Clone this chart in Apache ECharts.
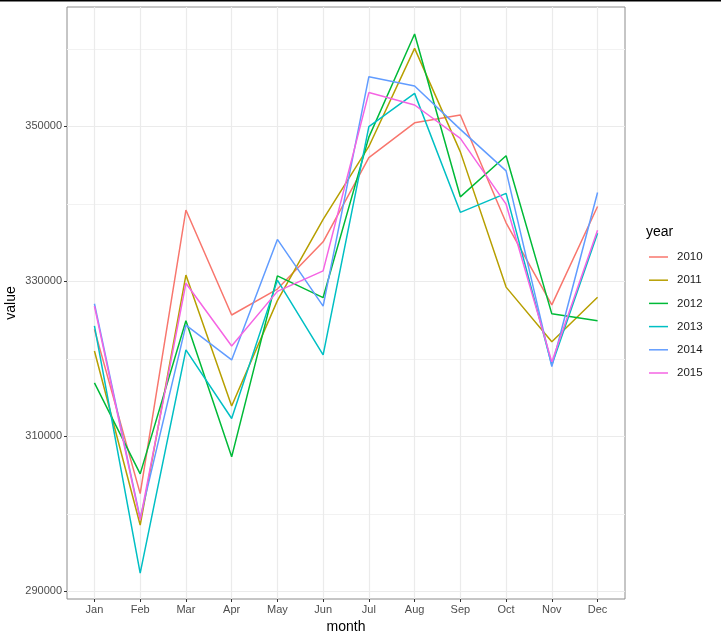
<!DOCTYPE html>
<html>
<head>
<meta charset="utf-8">
<script src="https://cdn.jsdelivr.net/npm/echarts@6/dist/echarts.min.js"></script>
<style>
  html, body { margin: 0; padding: 0; background: #fff; }
  #chart { width: 721px; height: 641px; }
</style>
</head>
<body>
<div id="chart"></div>
<script>
// data
const months = ['Jan', 'Feb', 'Mar', 'Apr', 'May', 'Jun', 'Jul', 'Aug', 'Sep', 'Oct', 'Nov', 'Dec'];
const years = ['2010', '2011', '2012', '2013', '2014', '2015'];
const yearColors = ['#F8766D', '#B79F00', '#00BA38', '#00BFC4', '#619CFF', '#F564E3'];

const v2010 = [323800, 302600, 339200, 325650, 329000, 335100, 345950, 350450, 351450, 337550, 326950, 339650];
const v2011 = [321000, 298550, 330800, 313900, 327500, 338000, 347400, 360050, 346700, 329250, 322200, 327950];
const v2012 = [316900, 305150, 324900, 307350, 330700, 327900, 348600, 361900, 340900, 346200, 325800, 324900];
const v2013 = [324250, 292350, 321150, 312300, 330150, 320500, 349950, 354250, 338900, 341350, 319200, 336200];
const v2014 = [327100, 299400, 324350, 319850, 335400, 326800, 356400, 355200, 349600, 344250, 319000, 341450];
const v2015 = [326800, 299200, 329750, 321650, 328700, 331350, 354350, 352750, 348450, 339950, 319600, 336600];
const yearValues = [v2010, v2011, v2012, v2013, v2014, v2015];

const majorTicks = [290000, 310000, 330000, 350000];
const minorTicks = [300000, 320000, 340000, 360000];

const font = "'Liberation Sans', Arial, sans-serif";

const chart = echarts.init(document.getElementById('chart'));

const series = years.map((yr, k) => ({
  name: yr,
  type: 'line',
  yAxisIndex: 0,
  showSymbol: false,
  data: yearValues[k].map((v, i) => [i, v]),
  lineStyle: { width: 1.5, color: yearColors[k] },
  itemStyle: { color: yearColors[k] },
  emphasis: { disabled: true }
}));

chart.setOption({
  animation: false,
  backgroundColor: '#fff',
  grid: {
    left: 67, right: 96, top: 7, bottom: 42,
    outerBoundsMode: 'none', containLabel: false,
    show: true, borderColor: '#8c8c8c', borderWidth: 1, backgroundColor: 'transparent'
  },
  title: {
    text: 'year', left: 641, top: 220,
    textStyle: { fontFamily: font, fontSize: 14, fontWeight: 'normal', color: '#000' }
  },
  legend: {
    data: years,
    orient: 'vertical',
    left: 644, top: 246,
    icon: 'rect',
    itemWidth: 19, itemHeight: 1.5,
    itemGap: 11.2,
    textStyle: { fontFamily: font, fontSize: 11.5, color: '#1a1a1a', padding: [0, 0, 0, 4] },
    selectedMode: false
  },
  xAxis: {
    type: 'value',
    min: -0.6, max: 11.6,
    name: 'month', nameLocation: 'middle', nameGap: 20,
    nameTextStyle: { fontFamily: font, fontSize: 14, color: '#000' },
    axisLine: { show: false, onZero: false },
    axisTick: { show: true, length: 3, lineStyle: { color: '#333' }, customValues: months.map((m, i) => i) },
    axisLabel: {
      fontFamily: font, fontSize: 11, color: '#4d4d4d', margin: 5,
      customValues: months.map((m, i) => i),
      formatter: v => months[Math.round(v)]
    },
    splitLine: { show: true, lineStyle: { color: '#ebebeb', width: 1.2 } }
  },
  yAxis: [
    {
      type: 'value',
      min: 289006, max: 365393,
      name: 'value', nameLocation: 'middle', nameGap: 49, nameMoveOverlap: false,
      nameTextStyle: { fontFamily: font, fontSize: 14, color: '#000' },
      axisLine: { show: false, onZero: false },
      axisTick: { show: true, length: 3, lineStyle: { color: '#333' }, customValues: majorTicks },
      axisLabel: {
        fontFamily: font, fontSize: 11, color: '#4d4d4d', margin: 5,
        customValues: majorTicks,
        formatter: v => String(Math.round(v))
      },
      splitLine: { show: true, lineStyle: { color: '#ebebeb', width: 1.2 } }
    },
    {
      type: 'value',
      min: 289006, max: 365393,
      position: 'left',
      axisLine: { show: false, onZero: false },
      axisTick: { show: false, customValues: minorTicks },
      axisLabel: { show: false, customValues: minorTicks },
      splitLine: { show: true, lineStyle: { color: '#f2f2f2', width: 1 } }
    }
  ],
  graphic: [
    { type: 'rect', shape: { x: 0, y: 0, width: 721, height: 1.5 }, style: { fill: '#000' } }
  ],
  series: series
});
</script>
</body>
</html>
